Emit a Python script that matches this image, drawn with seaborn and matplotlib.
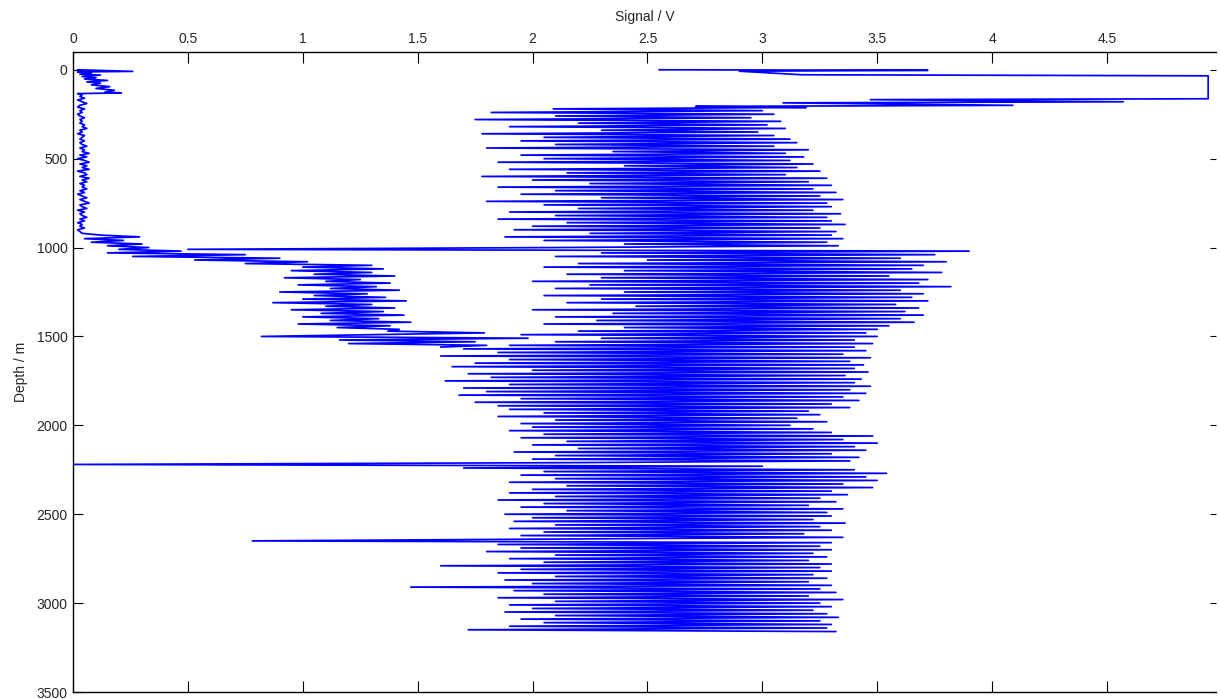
import numpy as np
import pandas as pd
import matplotlib
matplotlib.use("Agg")
import matplotlib.pyplot as plt
import seaborn as sns

# --- main trace: head (irregular depths) -------------------------------
main_head_depth = [0, 3, 8, 28, 34, 163, 168, 180, 186, 200, 206, 212]
main_head_signal = [2.55, 3.72, 2.90, 3.17, 4.94, 4.94, 3.47, 4.57, 3.09, 4.09, 2.71, 3.19]

# --- main trace: sampled every 10 m from 220 m down to 3160 m ------------
main_signal = [
    2.09, 3.00, 1.82, 3.05, 2.10, 2.95, 1.75, 3.08, 2.20, 3.02, 1.90, 3.10, 2.30, 2.98, 1.78, 3.05, 2.05, 3.12, 1.95,
    3.15, 2.10, 3.05, 1.80, 3.20, 2.35, 3.10, 1.95, 3.18, 2.05,
    3.12, 1.85, 3.22, 2.40, 3.15, 1.90, 3.25, 2.15, 3.10, 1.78,
    3.28, 2.00, 3.20, 2.25, 3.30, 1.85, 3.22, 2.10, 3.32, 1.95,
    3.25, 2.30, 3.35, 1.80, 3.28, 2.05, 3.30, 2.20, 3.22, 1.90,
    3.34, 2.10, 3.28, 1.85, 3.30, 2.15, 3.36, 2.00, 3.25, 1.92,
    3.32, 2.25, 3.30, 1.88, 3.35, 2.05, 3.28, 2.40, 3.33, 2.10,
    0.50, 3.90,
    2.30, 3.75, 2.10, 3.60, 2.50, 3.80, 2.20, 3.70, 2.05,
    3.65, 2.40, 3.78, 2.15, 3.55, 2.30, 3.72, 2.00, 3.68,
    2.25, 3.82, 2.10, 3.60, 2.40, 3.70, 2.05, 3.65, 2.30, 3.72,
    2.15, 3.58, 2.45, 3.68, 2.00, 3.62, 2.35, 3.70, 2.10, 3.60,
    2.28, 3.66, 2.05, 3.55, 2.40, 3.50,
    2.20, 3.45, 1.95, 3.50, 2.30, 3.40, 2.10, 3.48, 1.90,
    3.40, 1.70, 3.45, 1.85, 3.35, 1.60, 3.47, 1.90, 3.38, 1.75,
    3.44, 1.65, 3.40, 2.00, 3.46, 1.72, 3.36, 1.82, 3.43, 1.62,
    3.40, 1.90, 3.47, 1.70, 3.38, 1.80, 3.45, 1.68, 3.35, 1.95,
    3.42, 1.75, 3.30, 1.85, 3.38,
    1.90, 3.20, 2.05, 3.25, 1.85, 3.15, 2.10,
    3.28, 1.95, 3.12, 2.00, 3.22, 1.90, 3.30,
    2.05, 3.48, 1.95, 3.35, 2.15, 3.50, 2.00, 3.40, 2.20, 3.45,
    1.92, 3.30, 2.10, 3.42, 2.00, 3.38, 2.15,
    0.00, 3.00,
    1.70, 3.40, 2.05, 3.54, 1.95, 3.45, 2.10, 3.50, 1.90, 3.35,
    2.15, 3.48, 2.00,
    3.30, 1.90, 3.37, 2.10, 3.25, 1.85, 3.32, 2.05, 3.20, 1.95,
    3.35, 2.15, 3.28, 1.88, 3.30, 2.00, 3.22, 1.92, 3.36, 2.10,
    3.25, 1.90, 3.30, 2.05, 3.18, 1.95, 3.35, 2.10,
    0.78,
    3.30, 1.85, 3.25, 1.95, 3.30, 1.80, 3.22, 2.10, 3.28, 1.90,
    3.20, 2.05, 3.30, 1.60, 3.25, 1.95, 3.30, 1.85, 3.22, 2.10,
    3.28, 1.88, 3.20, 2.00, 3.30, 1.47, 3.25, 1.92, 3.32, 2.05,
    3.20, 1.85, 3.35, 2.10, 3.25, 1.90, 3.30, 2.00, 3.22, 1.88,
    3.28, 2.10, 3.33, 1.95, 3.25, 2.05, 3.30, 1.90, 3.28, 1.72,
    3.32,
]
main_start, main_step = 220, 10

# --- low-signal trace near the axis -------------------------------------
low_head_depth = [0, 9, 12, 18, 25, 30, 38, 45, 52, 60, 68, 75, 85, 95, 105, 115, 125, 130, 134, 140]
low_head_signal = [0.02, 0.26, 0.02, 0.08, 0.03, 0.12, 0.04, 0.10, 0.05, 0.15,
                   0.06, 0.12, 0.08, 0.16, 0.10, 0.18, 0.14, 0.21, 0.02, 0.04]

low_signal = [
    0.03, 0.05, 0.02, 0.04, 0.06, 0.03, 0.02, 0.05, 0.03, 0.04, 0.02, 0.03, 0.05, 0.03, 0.04,
    0.03, 0.05, 0.04, 0.06, 0.03, 0.04, 0.02, 0.05, 0.04, 0.03, 0.05, 0.03, 0.04, 0.06, 0.03, 0.05,
    0.04, 0.07, 0.03, 0.06, 0.02, 0.05, 0.07, 0.03, 0.06, 0.04,
    0.07, 0.02, 0.05, 0.06, 0.03, 0.07, 0.04, 0.06, 0.03, 0.05,
    0.04, 0.06, 0.03, 0.05, 0.02, 0.04, 0.06, 0.03, 0.05, 0.07,
    0.03, 0.04, 0.06, 0.02, 0.05, 0.03, 0.04, 0.06, 0.03, 0.05,
    0.02, 0.04, 0.03, 0.05, 0.02, 0.03, 0.04,
    0.12, 0.29, 0.05, 0.22, 0.08, 0.30, 0.15, 0.33, 0.20,
    0.47, 0.15, 0.75, 0.26, 0.90, 0.53, 1.02, 0.75, 1.30,
    1.00, 1.35, 0.95, 1.30, 1.05, 1.40, 0.92, 1.25, 1.10, 1.38,
    0.98, 1.32, 1.12, 1.42, 0.90, 1.28, 1.05, 1.36, 1.00, 1.45,
    0.87, 1.30, 1.10, 1.40, 0.95, 1.35, 1.08, 1.44, 1.00, 1.33,
    1.12, 1.47, 0.98, 1.38, 1.15, 1.42,
    1.37, 1.79, 1.30, 0.82, 1.98, 1.16, 1.75, 1.20, 1.80, 1.60,
]
low_start, low_step = 150, 10

x_ticks = [0, 0.5, 1, 1.5, 2, 2.5, 3, 3.5, 4, 4.5]
y_ticks = [0, 500, 1000, 1500, 2000, 2500, 3000, 3500]

# build tidy frame
main_depth = list(main_head_depth) + list(main_start + main_step * np.arange(len(main_signal)))
low_depth = list(low_head_depth) + list(low_start + low_step * np.arange(len(low_signal)))
df = pd.concat([
    pd.DataFrame({"depth": main_depth, "signal": main_head_signal + main_signal, "trace": "main"}),
    pd.DataFrame({"depth": low_depth, "signal": low_head_signal + low_signal, "trace": "low"}),
], ignore_index=True)

sns.set_theme(style="white")
plt.rcParams["font.family"] = ["Liberation Sans", "DejaVu Sans"]

fig = plt.figure(figsize=(12.2, 6.99), dpi=100)
W, H = 1220, 699
ax = fig.add_axes([73 / W, 1 - 692 / H, (1216 - 73) / W, (692 - 52) / H])

sns.lineplot(data=df, x="signal", y="depth", units="trace", estimator=None, sort=False,
             color="#0000ff", linewidth=1.25, ax=ax)

ax.set_xlim(0, 4.974)
ax.set_ylim(3500, -100)
ax.set_xticks(x_ticks)
ax.set_xticklabels([f"{t:g}" for t in x_ticks])
ax.set_yticks(y_ticks)

ax.xaxis.set_label_position("top")
ax.set_xlabel("Signal / V", fontsize=10, labelpad=8)
ax.set_ylabel("Depth / m", fontsize=10, labelpad=6)

ax.tick_params(axis="x", top=True, bottom=True, labeltop=True, labelbottom=False,
               direction="in", length=8, width=0.8, color="black", labelsize=10, pad=4)
ax.tick_params(axis="y", left=True, right=False, direction="in", length=7, width=0.8,
               color="black", labelsize=10, pad=4)
for side in ["top", "left", "bottom"]:
    ax.spines[side].set_color("black")
    ax.spines[side].set_linewidth(1.0)
ax.spines["right"].set_visible(False)

# short inward ticks on the right edge
ax_r = ax.secondary_yaxis("right")
ax_r.set_yticks(y_ticks)
ax_r.set_yticklabels([])
ax_r.tick_params(direction="in", length=4, width=0.8, color="black")
ax_r.spines["right"].set_visible(False)

ax.grid(False)
fig.savefig("out.png", dpi=100)
